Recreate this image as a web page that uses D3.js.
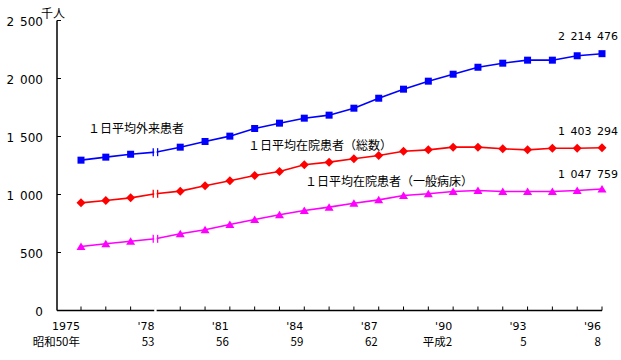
<!DOCTYPE html>
<html lang="ja">
<head>
<meta charset="UTF-8">
<script src="https://d3js.org/d3.v7.min.js"></script>
<style>
  body { margin: 0; background: #fff; }
  text { font-family: "DejaVu Sans", sans-serif; fill: #000; }
  .jp { font-family: "Noto Sans CJK JP", sans-serif; }
</style>
</head>
<body>
<div id="chart"></div>
<script>
// data (千人)
const years = d3.range(1975, 1997);
const outpatients = [1296, 1322, 1347, 1365, 1408, 1457, 1503, 1569, 1615, 1658, 1684,
    1744, 1830, 1908, 1977, 2037, 2097, 2132, 2158, 2158, 2196, 2214];
const inpatientsAll = [928, 948, 971, 1006, 1029, 1075, 1118, 1164, 1198, 1256, 1279,
    1308, 1336, 1373, 1385, 1408, 1408, 1394, 1385, 1399, 1399, 1403];
const inpatientsGeneral = [552, 575, 597, 618, 661, 696, 741, 784, 825, 862, 891,
    925, 954, 991, 1006, 1026, 1034, 1026, 1026, 1026, 1034, 1048];

const yTicks = [0, 500, 1000, 1500, 2000, 2500];
const yearTickYears = [1975, 1978, 1981, 1984, 1987, 1990, 1993, 1996];
const yearLabels = ["1975", "'78", "'81", "'84", "'87", "'90", "'93", "'96"];
const eraLabels = ["昭和50年", "53", "56", "59", "62", "平成2", "5", "8"];
const breakYear = 1978;

const series = [
    { name: "１日平均外来患者", values: outpatients, color: "#0000ff", shape: "square",
      last: "2\u2002214\u2002476", labelX: 88, labelY: 133, lastY: 40 },
    { name: "１日平均在院患者（総数）", values: inpatientsAll, color: "#ff0000", shape: "diamond",
      last: "1\u2002403\u2002294", labelX: 248, labelY: 150, lastY: 135 },
    { name: "１日平均在院患者（一般病床）", values: inpatientsGeneral, color: "#ff00ff", shape: "triangle",
      last: "1\u2002047\u2002759", labelX: 305, labelY: 186, lastY: 178 }
];

const width = 621, height = 360;
const axisX = 57;

const svg = d3.select("#chart").append("svg")
    .attr("width", width)
    .attr("height", height);

const x = d3.scaleLinear().domain([1975, 1996]).range([81, 602]);
const y = d3.scaleLinear().domain([0, 2500]).range([310.5, 20.5]);

const fmt = v => d3.format(",")(v).replace(/,/g, "\u2002");

// y axis
svg.append("line")
    .attr("x1", axisX).attr("x2", axisX)
    .attr("y1", y(2500)).attr("y2", y(0))
    .attr("stroke", "#000").attr("stroke-width", 1.5);
svg.selectAll(".ytick").data(yTicks).join("line")
    .attr("x1", axisX).attr("x2", axisX + 4)
    .attr("y1", d => y(d)).attr("y2", d => y(d))
    .attr("stroke", "#000").attr("stroke-width", 1);
svg.selectAll(".ylab").data(yTicks).join("text")
    .attr("x", 43).attr("y", d => y(d) + 5)
    .attr("text-anchor", "end")
    .style("font-size", "12px")
    .text(d => fmt(d));
svg.append("text").attr("class", "jp")
    .attr("x", 41).attr("y", 18)
    .style("font-size", "12px")
    .text("千人");

// x axis
svg.append("line")
    .attr("x1", axisX).attr("x2", x(1996))
    .attr("y1", y(0)).attr("y2", y(0))
    .attr("stroke", "#000").attr("stroke-width", 1.5);
svg.selectAll(".xtick").data(years).join("line")
    .attr("x1", d => x(d)).attr("x2", d => x(d))
    .attr("y1", y(0)).attr("y2", y(0) - 4)
    .attr("stroke", "#000").attr("stroke-width", 1);
svg.selectAll(".xlab").data(yearTickYears).join("text")
    .attr("x", d => x(d) - 1).attr("y", 330)
    .attr("text-anchor", "end")
    .style("font-size", "11px")
    .text((d, i) => yearLabels[i]);
svg.selectAll(".elab").data(yearTickYears).join("text")
    .attr("class", "jp")
    .attr("x", d => x(d) - 1).attr("y", 346)
    .attr("text-anchor", "end")
    .style("font-size", "11.5px")
    .text((d, i) => eraLabels[i]);

// series
const line = d3.line().x((d, i) => x(years[i])).y(d => y(d));
const bi = years.indexOf(breakYear);

series.forEach(s => {
    svg.append("path")
        .datum(s.values)
        .attr("fill", "none")
        .attr("stroke", s.color)
        .attr("stroke-width", 1.6)
        .attr("d", line);

    const pts = s.values.map((v, i) => [years[i], v]).filter(p => p[0] !== breakYear);
    const g = svg.append("g").attr("fill", s.color);
    if (s.shape === "square") {
        g.selectAll("rect").data(pts).join("rect")
            .attr("x", d => x(d[0]) - 3.5).attr("y", d => y(d[1]) - 3.5)
            .attr("width", 7).attr("height", 7);
    } else if (s.shape === "diamond") {
        g.selectAll("path").data(pts).join("path")
            .attr("d", d => `M${x(d[0])},${y(d[1]) - 4.5}l4.5,4.5l-4.5,4.5l-4.5,-4.5z`);
    } else {
        g.selectAll("path").data(pts).join("path")
            .attr("d", d => `M${x(d[0])},${y(d[1]) - 4}l4.5,7.5h-9z`);
    }
});

// break mark at 1978
const bx = x(breakYear);
svg.append("rect")
    .attr("x", bx - 1.2).attr("y", y(2500) + 2)
    .attr("width", 2.4).attr("height", y(0) - y(2500))
    .attr("fill", "#fff");
series.forEach(s => {
    [bx - 2.2, bx + 2.2].forEach(px => {
        svg.append("line")
            .attr("x1", px).attr("x2", px)
            .attr("y1", y(s.values[bi]) - 4).attr("y2", y(s.values[bi]) + 4)
            .attr("stroke", s.color).attr("stroke-width", 1.3);
    });
});

// labels on top
series.forEach(s => {
    svg.append("text").attr("class", "jp")
        .attr("x", s.labelX).attr("y", s.labelY)
        .style("font-size", "12px")
        .text(s.name);
    svg.append("text")
        .attr("x", 618).attr("y", s.lastY)
        .attr("text-anchor", "end")
        .style("font-size", "11px")
        .text(s.last);
});
</script>
</body>
</html>
